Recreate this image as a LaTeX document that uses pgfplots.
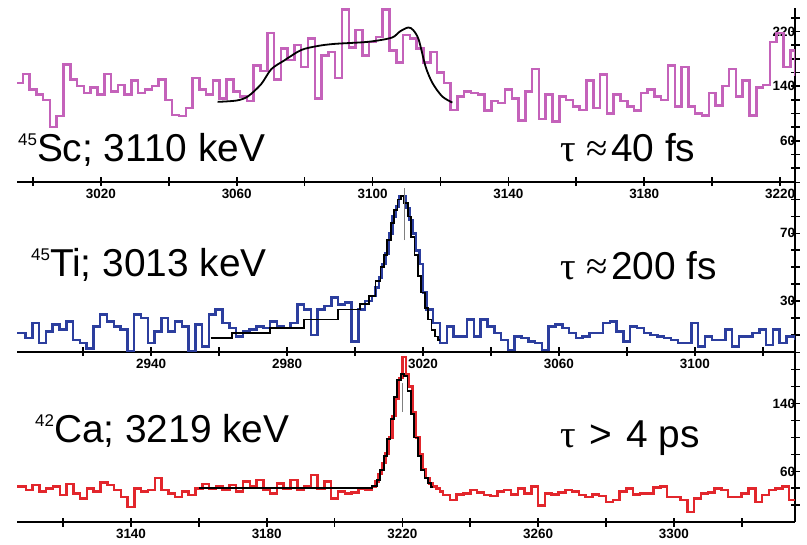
\documentclass[border=0pt]{standalone}
\usepackage{pgfplots}
\pgfplotsset{compat=1.18}
\usepackage{fontspec}
\setmainfont{Liberation Sans}
\newfontfamily\grk{Liberation Serif}

\definecolor{scpink}{RGB}{196,98,186}
\definecolor{tiblue}{RGB}{44,62,158}
\definecolor{cared}{RGB}{226,38,44}

\pgfplotsset{
  panel/.style={
    scale only axis, width=778bp,
    axis x line=bottom, axis y line=right,
    axis line style={-, line width=2.2bp},
    tick align=center,
    major tick length=9bp, minor tick length=9bp,
    major tick style={black, line width=1.7bp},
    minor tick style={black, line width=1.7bp},
    ticklabel style={font=\fontsize{13.5}{13.5}\selectfont\bfseries},
    /pgf/number format/assume math mode=true,
    /pgf/number format/1000 sep={},
    yticklabel style={anchor=east, xshift=-1bp},
    xticklabel style={yshift=1bp},
    ymin=0,
  },
  histo/.style={const plot, line width=2.5bp, no marks},
  fit/.style={black, line width=1.8bp, no marks},
}
\newcommand{\bigtxt}{\fontsize{39}{40}\selectfont}
\newcommand{\iso}[1]{\raisebox{16bp}{\fontsize{17}{17}\selectfont #1}}

\begin{document}
\begin{tikzpicture}

% 45Sc, 3110 keV
\begin{axis}[panel, at={(17bp,363.3bp)}, anchor=south west, height=174bp,
  xmin=2995.3, xmax=3224.4, ymax=255,
  xtick={3020,3060,...,3220}, minor xtick={3000,3040,...,3200},
  ytick={60,140,220}, minor ytick={20,40,...,240}]
\addplot[histo, scpink] coordinates {
(2995.3,145) (2997,158) (2999,135) (3001,128) (3003,120) (3005,80) (3007,96) (3009,172)
(3011,150) (3013,140) (3015,130) (3017,138) (3019,128) (3021,158) (3023,132) (3025,142)
(3027,128) (3029,148) (3031,130) (3033,135) (3035,140) (3037,150) (3039,120) (3041,98)
(3043,96) (3045,108) (3047,152) (3049,135) (3051,128) (3053,148) (3055,122) (3057,150)
(3059,132) (3061,125) (3063,118) (3065,170) (3067,162) (3069,218) (3071,150) (3073,195)
(3075,178) (3077,200) (3079,168) (3081,210) (3083,122) (3085,185) (3087,190) (3089,152)
(3091,252) (3093,197) (3095,222) (3097,185) (3099,205) (3101,212) (3103,252) (3105,192)
(3107,175) (3109,215) (3111,210) (3113,195) (3115,175) (3117,190) (3119,160) (3121,145)
(3123,105) (3125,125) (3127,132) (3129,130) (3131,128) (3133,104) (3135,118) (3137,115)
(3139,135) (3141,122) (3143,90) (3145,132) (3147,165) (3149,92) (3151,128) (3153,88)
(3155,125) (3157,120) (3159,110) (3161,105) (3163,148) (3165,108) (3167,157) (3169,100)
(3171,128) (3173,118) (3175,110) (3177,104) (3179,130) (3181,135) (3183,125) (3185,120)
(3187,170) (3189,110) (3191,168) (3193,110) (3195,100) (3197,97) (3199,130) (3201,112)
(3203,140) (3205,165) (3207,125) (3209,148) (3211,97) (3213,138) (3215,142) (3217,205)
(3219,218) (3221,168) (3223,192) (3224.4,155)
};
\addplot[fit, smooth, tension=0.5] coordinates {
(3054.4,117) (3060,119) (3063.3,125) (3067.2,143) (3070.2,165) (3074.1,178) (3079,193)
(3084,199) (3088.9,202) (3098.7,205) (3105.6,211) (3108,220) (3110.5,226) (3112,222)
(3113.6,208) (3115.6,169) (3117.6,145) (3120.5,125) (3123.5,116)
};
\end{axis}

% 45Ti, 3013 keV
\begin{axis}[panel, at={(17bp,193.3bp)}, anchor=south west, height=170.4bp,
  xmin=2900.5, xmax=3129.5, ymax=100.8,
  xtick={2940,2980,...,3100}, minor xtick={2920,2960,...,3120},
  ytick={30,70}, minor ytick={10,20,...,100}]
\addplot[histo, tiblue] coordinates {
(2900.5,11) (2903,8) (2905,17) (2907,5) (2909,12) (2911,16) (2913,13) (2915,18)
(2917,7) (2919,5) (2921,2) (2923,15) (2925,22) (2927,18) (2929,15) (2931,13)
(2933,0) (2935,22) (2937,20) (2939,5) (2941,12) (2943,20) (2945,12) (2947,18)
(2949,15) (2951,0) (2953,16) (2955,3) (2957,22) (2959,25) (2961,17) (2963,14)
(2965,9) (2967,12) (2969,13) (2971,15) (2973,14) (2975,18) (2977,15) (2979,14)
(2981,17) (2983,28) (2985,25) (2987,10) (2989,25) (2991,27) (2993,32) (2995,28)
(2997,29) (2999,6) (3001,25) (3003,30) (3005,33) (3006,38) (3007,44) (3008,52)
(3009,58) (3010,70) (3011,80) (3012,86) (3013,92) (3014,92) (3015,85) (3016,78)
(3017,70) (3018,60) (3019,52) (3020,35) (3021,25) (3022,25) (3023,17) (3024,17)
(3025,5) (3026,5) (3027,15) (3029,9) (3031,9) (3033,19) (3035,9) (3037,19)
(3039,15) (3041,11) (3043,7) (3045,1) (3047,9) (3049,8) (3051,6) (3053,5)
(3055,1) (3057,15) (3059,16) (3061,14) (3063,11) (3065,8) (3067,9) (3069,11)
(3071,11) (3073,17) (3075,18) (3077,12) (3079,6) (3081,15) (3083,14) (3085,11)
(3087,10) (3089,9) (3091,8) (3093,7) (3095,5) (3097,5) (3099,17) (3101,3)
(3103,9) (3105,7) (3107,7) (3109,13) (3111,3) (3113,9) (3115,9) (3117,11)
(3119,13) (3121,4) (3123,13) (3125,5) (3127,9) (3129.5,7)
};
\addplot[fit, const plot mark mid] coordinates {
(2957.5,8) (2970,11) (2980,14) (2990,19) (3000,25) (3003,28) (3005,33) (3007,42)
(3008,50) (3009,57) (3010,66) (3011,76) (3012,84) (3013,90) (3014,92) (3015,88)
(3016,80) (3017,68) (3018,57) (3019,45) (3020,35) (3021,26) (3022,19) (3023,13)
(3024,9) (3025,7)
};
\addplot[gray, line width=0.8bp] coordinates {(3014.6,66) (3014.6,97)};
\end{axis}

% 42Ca, 3219 keV
\begin{axis}[panel, at={(17bp,22.7bp)}, anchor=south west, height=170.6bp,
  xmin=3106.4, xmax=3335.7, ymax=201,
  xtick={3140,3180,...,3300}, minor xtick={3120,3160,...,3320},
  ytick={60,140}, minor ytick={20,40,...,200}]
\addplot[histo, cared] coordinates {
(3106.4,42) (3109,38) (3111,44) (3113,36) (3115,40) (3117,42) (3119,32) (3121,45)
(3123,34) (3125,28) (3127,40) (3129,36) (3131,47) (3133,44) (3135,38) (3137,30)
(3139,18) (3141,40) (3143,36) (3145,38) (3147,52) (3149,38) (3151,34) (3153,30)
(3155,36) (3157,32) (3159,40) (3161,45) (3163,40) (3165,42) (3167,38) (3169,44)
(3171,36) (3173,48) (3175,42) (3177,50) (3179,38) (3181,34) (3183,46) (3185,40)
(3187,50) (3189,38) (3191,42) (3193,56) (3195,40) (3197,48) (3199,28) (3201,36)
(3203,34) (3205,35) (3207,40) (3209,38) (3211,42) (3212,48) (3213,57) (3214,70)
(3215,81) (3216,100) (3217,125) (3218,145) (3219,170) (3220,195) (3221,175) (3222,160)
(3223,130) (3224,100) (3225,80) (3226,62) (3227,52) (3228,46) (3229,42) (3230,40)
(3231,36) (3232,32) (3234,26) (3236,33) (3238,34) (3240,38) (3242,35) (3244,32)
(3246,31) (3248,36) (3250,38) (3252,33) (3254,40) (3256,34) (3258,42) (3260,20)
(3262,34) (3264,33) (3266,35) (3268,38) (3270,36) (3272,32) (3274,30) (3276,33)
(3278,31) (3280,24) (3282,26) (3284,36) (3286,40) (3288,33) (3290,34) (3292,34)
(3294,41) (3296,42) (3298,30) (3300,30) (3302,26) (3304,12) (3306,28) (3308,34)
(3310,35) (3312,40) (3314,38) (3316,30) (3318,30) (3320,34) (3322,40) (3324,24)
(3326,32) (3328,38) (3330,40) (3332,42) (3334,26) (3335.7,26)
};
\addplot[fit, const plot mark mid] coordinates {
(3160,40) (3210,40) (3212,43) (3213,50) (3214,62) (3215,78) (3216,98) (3217,122)
(3218,148) (3219,168) (3220,175) (3221,172) (3222,155) (3223,128) (3224,100)
(3225,78) (3226,62) (3227,52) (3228,46) (3229,42)
};
\addplot[gray, line width=0.8bp] coordinates {(3220,130) (3220,164)};
\end{axis}

% panel captions
\node[anchor=base west, inner sep=0] at (18bp,383bp) {\bigtxt\iso{45}Sc; 3110 keV};
\node[anchor=base west, inner sep=0] at (560bp,383bp) {\bigtxt{\grk τ}\hspace{11bp}{\grk ≈}\hspace{3bp}40 fs};
\node[anchor=base west, inner sep=0] at (31bp,268bp) {\bigtxt\iso{45}Ti; 3013 keV};
\node[anchor=base west, inner sep=0] at (560bp,265bp) {\bigtxt{\grk τ}\hspace{11bp}{\grk ≈}\hspace{3bp}200 fs};
\node[anchor=base west, inner sep=0] at (35bp,102bp) {\bigtxt\iso{42}Ca; 3219 keV};
\node[anchor=base west, inner sep=0] at (560bp,97bp) {\bigtxt{\grk τ}\hspace{14bp}>\hspace{14bp}4 ps};

\pgfresetboundingbox
\path[use as bounding box] (0,0) rectangle (807bp,545bp);
\end{tikzpicture}
\end{document}
